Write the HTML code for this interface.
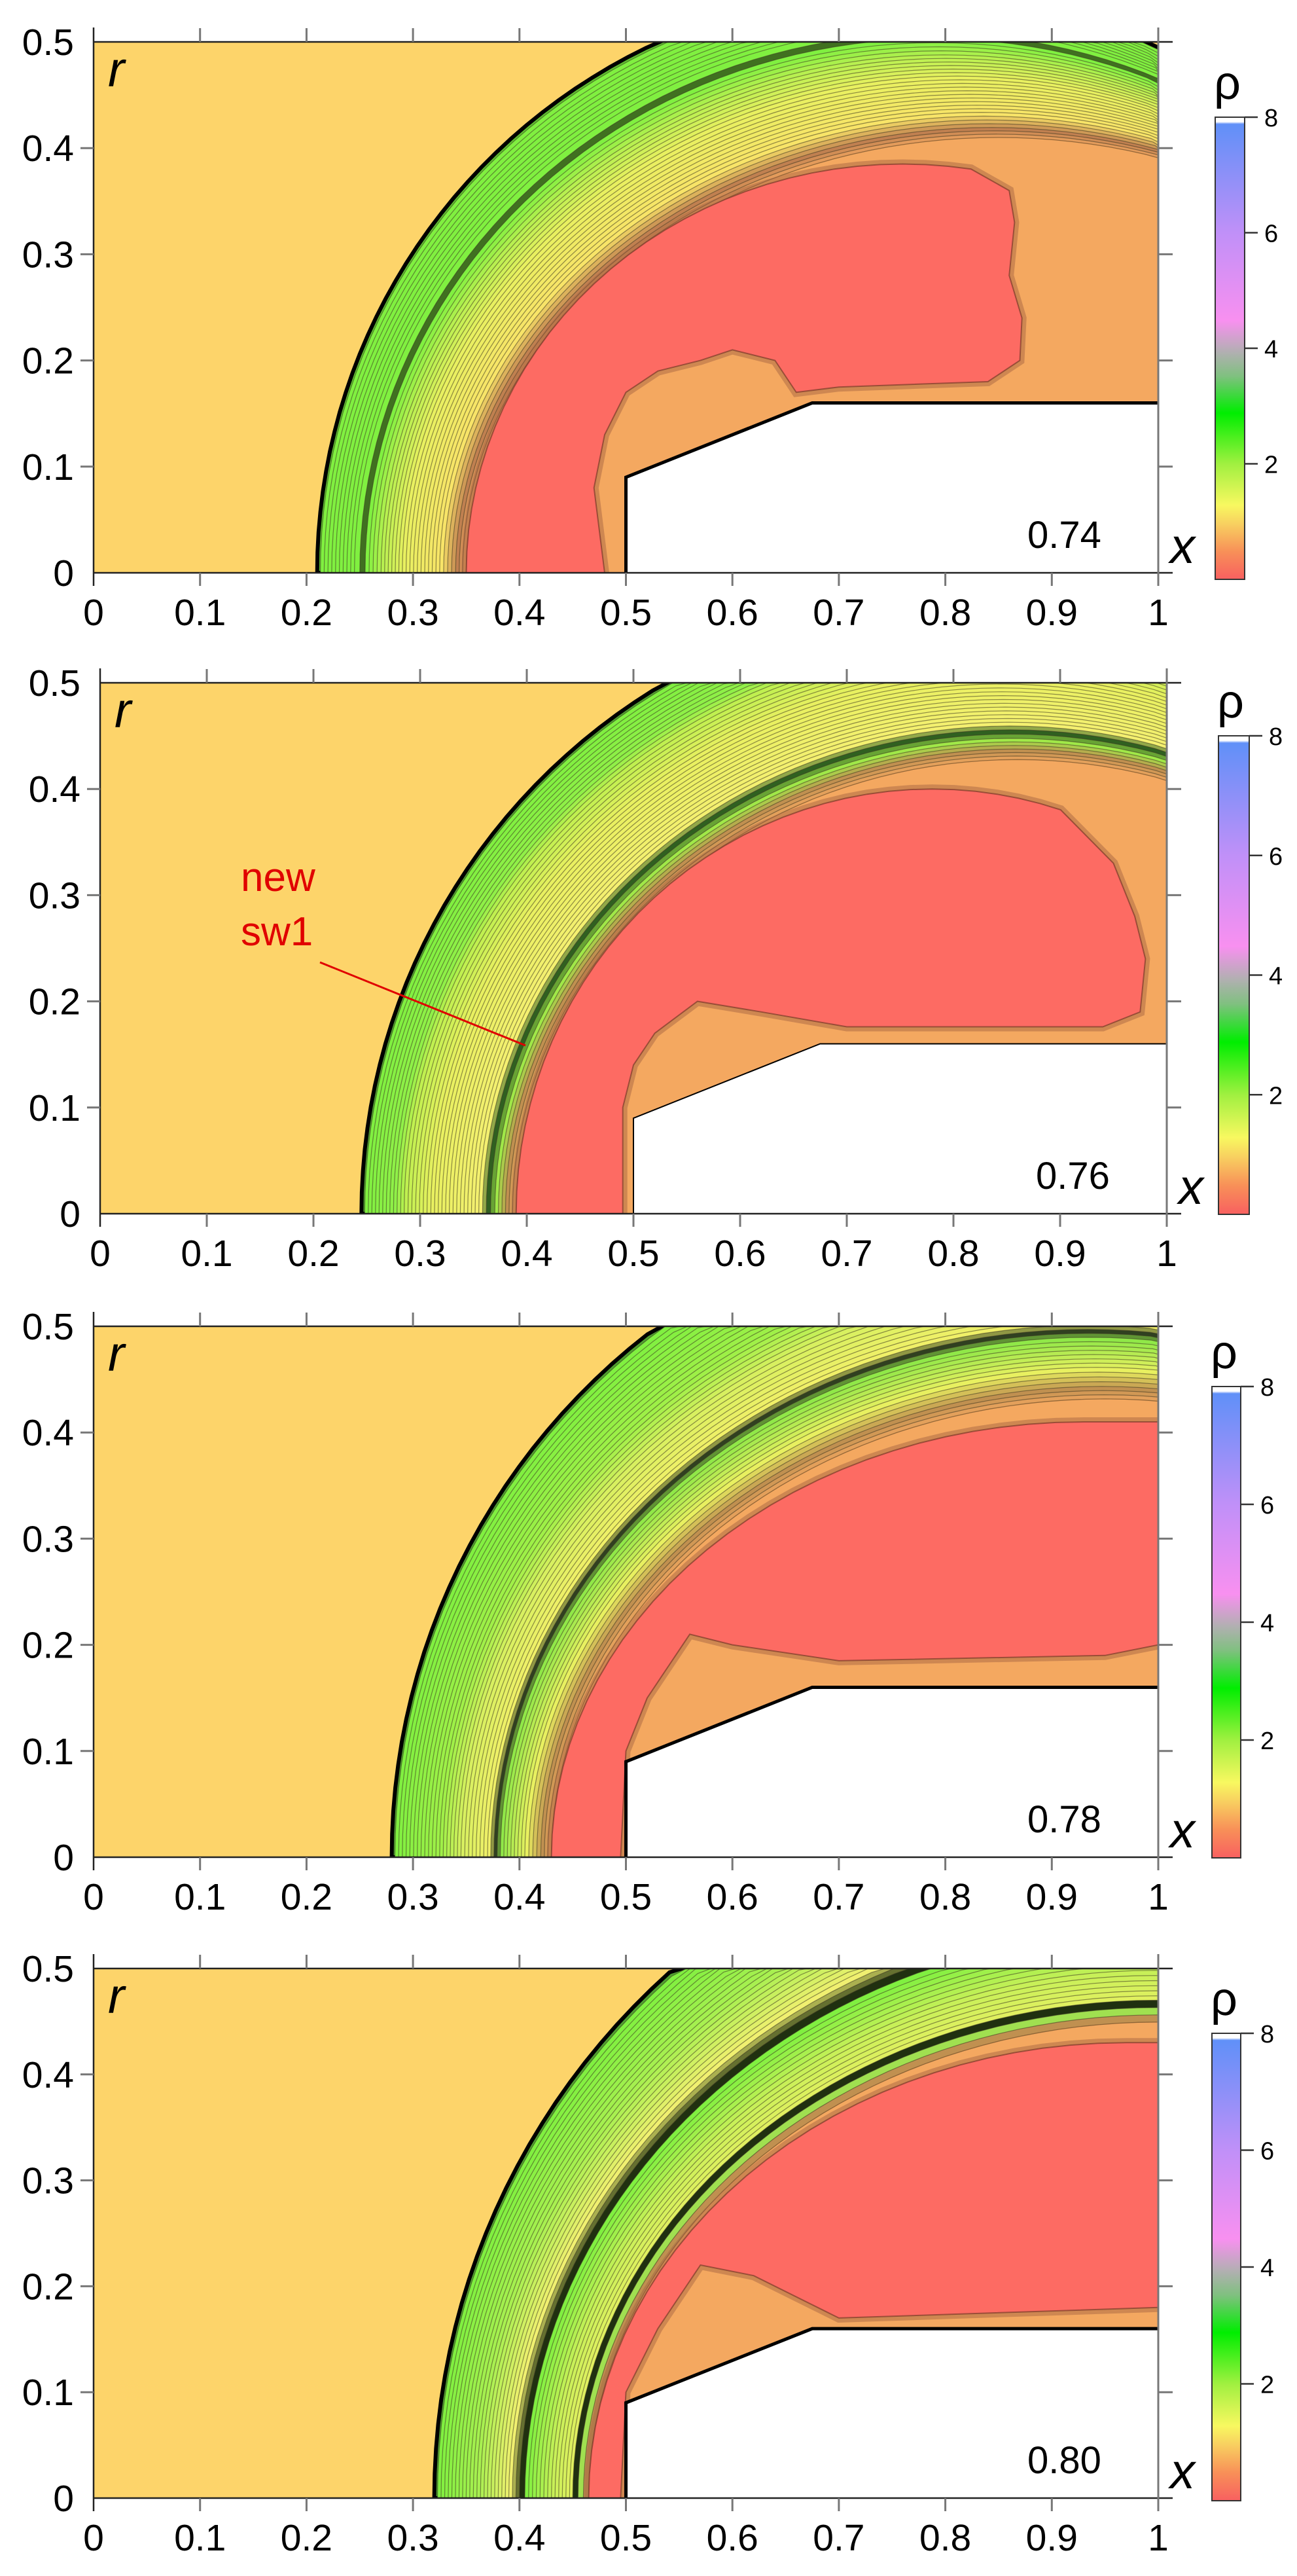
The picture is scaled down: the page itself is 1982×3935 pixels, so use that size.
<!DOCTYPE html>
<html><head><meta charset="utf-8">
<style>
html,body{margin:0;padding:0;background:#fff;overflow:hidden;width:1982px;height:3935px;}
svg{display:block;overflow:hidden;}
text{font-family:"Liberation Sans",Arial,sans-serif;}
</style></head>
<body>
<svg id="s" width="1982" height="3935" viewBox="0 0 1982 3935" xmlns="http://www.w3.org/2000/svg">
<defs>
<linearGradient id="cb" x1="0" y1="1" x2="0" y2="0">
<stop offset="0" stop-color="#f86060"/>
<stop offset="0.06" stop-color="#f89058"/>
<stop offset="0.12" stop-color="#f8d060"/>
<stop offset="0.16" stop-color="#f8f860"/>
<stop offset="0.25" stop-color="#a0f040"/>
<stop offset="0.36" stop-color="#00ee00"/>
<stop offset="0.44" stop-color="#80c080"/>
<stop offset="0.49" stop-color="#b0b0b0"/>
<stop offset="0.56" stop-color="#f890f0"/>
<stop offset="0.75" stop-color="#c090f8"/>
<stop offset="0.985" stop-color="#6090f8"/>
<stop offset="0.99" stop-color="#ffffff"/>
<stop offset="1" stop-color="#ffffff"/>
</linearGradient>
</defs>
</svg>
<script>
(function(){
var svg=document.getElementById('s');
var out='';
function hx(c){return [parseInt(c.substr(1,2),16),parseInt(c.substr(3,2),16),parseInt(c.substr(5,2),16)];}
function mix(a,b,t){var A=hx(a),B=hx(b);return 'rgb('+A.map(function(v,i){return Math.round(v+(B[i]-v)*t);}).join(',')+')';}
var panels=[
 {L:143,R:1770,T:64,B:875,cb:[1857,1902,179,885],t:'0.74',cx0:0.76,cx1:0.85,k0:1.0,k1:0.82,
  layers:[[0.21,'#60c030'],[0.213,'#80f040'],[0.245,'#80f040'],[0.25,'#407020'],[0.255,'#80f040'],[0.27,'#b8f050'],[0.29,'#e8f060'],[0.325,'#f8e468'],[0.34,'#c08050'],[0.35,'#f4a860']],
  red:{cx:0.76,rx:0.41,ry:0.385,a1:80,pts:[[0.86,0.36],[0.865,0.33],[0.86,0.28],[0.872,0.24],[0.87,0.2],[0.84,0.18],[0.7,0.175],[0.66,0.17],[0.64,0.2],[0.6,0.21],[0.57,0.2],[0.53,0.19],[0.5,0.17],[0.48,0.13],[0.47,0.08],[0.48,0]]}},
 {L:153,R:1783,T:1043,B:1854,cb:[1862,1909,1124,1855],t:'0.76',cx0:0.826,cx1:0.86,k0:1.0,k1:0.91,
  layers:[[0.245,'#50a030'],[0.248,'#80f040'],[0.275,'#90f048'],[0.285,'#c0f050'],[0.31,'#e8f060'],[0.355,'#f4f070'],[0.362,'#306020'],[0.37,'#a0e848'],[0.38,'#c09050'],[0.39,'#f4a860']],
  red:{cx:0.78,rx:0.39,ry:0.40,a1:70,pts:[[0.95,0.33],[0.97,0.28],[0.98,0.24],[0.975,0.19],[0.94,0.176],[0.7,0.176],[0.62,0.19],[0.56,0.2],[0.52,0.17],[0.5,0.14],[0.49,0.1],[0.49,0]]}},
 {L:143,R:1770,T:2026,B:2837,cb:[1852,1896,2118,2838],t:'0.78',cx0:0.905,cx1:0.95,k0:1.0,k1:0.83,
  layers:[[0.28,'#50a030'],[0.283,'#80f040'],[0.325,'#a0f048'],[0.345,'#d8f060'],[0.37,'#f0f068'],[0.376,'#304020'],[0.382,'#90e848'],[0.405,'#e8f060'],[0.42,'#c09050'],[0.43,'#f4a860']],
  red:{cx:0.93,rx:0.5,ry:0.41,a1:90,pts:[[1.0,0.41],[1.0,0.2],[0.95,0.19],[0.7,0.185],[0.6,0.2],[0.56,0.21],[0.52,0.15],[0.5,0.1],[0.495,0]]}},
 {L:143,R:1770,T:3007,B:3816,cb:[1852,1896,3106,3820],t:'0.80',cx0:0.988,cx1:1.0,k0:1.0,k1:0.84,
  layers:[[0.32,'#50a030'],[0.323,'#80f040'],[0.36,'#a8f050'],[0.39,'#f0f070'],[0.40,'#203010'],[0.405,'#80f040'],[0.43,'#c8f058'],[0.447,'#e0f060'],[0.45,'#203010'],[0.455,'#a0e050'],[0.46,'#c09050'],[0.465,'#f4a860']],
  red:{cx:0.97,rx:0.505,ry:0.43,a1:90,pts:[[1.0,0.43],[1.0,0.18],[0.7,0.17],[0.62,0.21],[0.57,0.22],[0.53,0.16],[0.5,0.1],[0.495,0]]}}
];
panels.forEach(function(p,i){
 var sx=p.R-p.L, sy=(p.B-p.T)/0.5;
 function X(x){return p.L+x*sx;} function Y(r){return p.B-r*sy;}
 function cl(v,a,b){return Math.max(a,Math.min(b,v));}
 var cid='c'+i;
 out+='<clipPath id="'+cid+'"><rect x="'+p.L+'" y="'+p.T+'" width="'+sx+'" height="'+(p.B-p.T)+'"/></clipPath>';
 out+='<g clip-path="url(#'+cid+')">';
 out+='<rect x="'+p.L+'" y="'+p.T+'" width="'+sx+'" height="'+(p.B-p.T)+'" fill="#fdd46a"/>';
 var x0s=p.layers[0][0], x0e=p.layers[p.layers.length-1][0];
 function ell(x0,fill,sc,sw,so){
  var t=(x0-x0s)/(x0e-x0s);
  var cx=p.cx0+(p.cx1-p.cx0)*t, k=p.k0+(p.k1-p.k0)*t, rx=cx-x0, ry=rx*k;
  var d='';
  for(var a=180;a>=0;a-=2){var th=a*Math.PI/180;var xx=cl(cx+rx*Math.cos(th),0,1.003), yy=cl(ry*Math.sin(th),0,0.502);
   d+=(d?'L':'M')+X(xx).toFixed(1)+','+Y(yy).toFixed(1);}
  d+='Z';
  return '<path d="'+d+'" fill="'+fill+'" stroke="'+sc+'" stroke-opacity="'+so+'" stroke-width="'+sw+'"/>';
 }
 for(var j=0;j<p.layers.length-1;j++){
  var a=p.layers[j],b=p.layers[j+1];
  var n=Math.max(1,Math.round((b[0]-a[0])/0.0035));
  for(var m=0;m<n;m++){
   var f=m/n, x0=a[0]+(b[0]-a[0])*f;
   var first=(j==0&&m==0);
   out+=ell(x0,mix(a[1],b[1],f),first?'#000':'#3a3520',first?6:1.2,first?1:0.55);
  }
 }
 var last=p.layers[p.layers.length-1];
 out+=ell(last[0],last[1],'#5a4020',1.3,0.6);
 var rd=p.red, d='';
 for(var ang=180;ang>=rd.a1;ang-=3){var tt=ang*Math.PI/180;var xx=rd.cx+rd.rx*Math.cos(tt), yy=rd.ry*Math.sin(tt);d+=(d?'L':'M')+X(xx).toFixed(1)+','+Y(yy).toFixed(1);}
 rd.pts.forEach(function(pt){d+='L'+X(pt[0]).toFixed(1)+','+Y(pt[1]).toFixed(1);});
 d+='Z';
 out+='<path d="'+d+'" fill="none" stroke="#a06040" stroke-opacity="0.45" stroke-width="14"/>';
 out+='<path d="'+d+'" fill="#fd6b63" stroke="#7a3a2a" stroke-opacity="0.7" stroke-width="2"/>';
 var bd='M'+X(0.5)+','+Y(0)+'L'+X(0.5)+','+Y(0.09)+'L'+X(0.675)+','+Y(0.16)+'L'+X(1.005)+','+Y(0.16)+'L'+X(1.005)+','+Y(0)+'Z';
 out+='<path d="'+bd+'" fill="#fff"/>';
 out+='<path d="M'+X(0.5)+','+Y(0)+'L'+X(0.5)+','+Y(0.09)+'L'+X(0.675)+','+Y(0.16)+'L'+X(1)+','+Y(0.16)+'" fill="none" stroke="#000" stroke-width="'+(i==1?2:5)+'"/>';
 out+='</g>';
 out+='<g stroke="#222" stroke-width="2.5">';
 out+='<line x1="'+p.L+'" y1="'+p.T+'" x2="'+(p.R+22)+'" y2="'+p.T+'"/>';
 out+='<line x1="'+p.L+'" y1="'+p.B+'" x2="'+(p.R+22)+'" y2="'+p.B+'"/>';
 out+='<line x1="'+p.L+'" y1="'+(p.T-22)+'" x2="'+p.L+'" y2="'+(p.B+20)+'"/>';
 out+='</g><g stroke="#777" stroke-width="3">';
 out+='<line x1="'+p.R+'" y1="'+(p.T-22)+'" x2="'+p.R+'" y2="'+(p.B+20)+'"/>';
 for(var tx=1;tx<10;tx++){var xx2=X(tx/10);out+='<line x1="'+xx2+'" y1="'+(p.T-21)+'" x2="'+xx2+'" y2="'+p.T+'"/><line x1="'+xx2+'" y1="'+p.B+'" x2="'+xx2+'" y2="'+(p.B+20)+'"/>';}
 for(var ty=1;ty<5;ty++){var yy2=Y(ty/10);out+='<line x1="'+(p.L-20)+'" y1="'+yy2+'" x2="'+p.L+'" y2="'+yy2+'"/><line x1="'+p.R+'" y1="'+yy2+'" x2="'+(p.R+22)+'" y2="'+yy2+'"/>';}
 out+='</g>';
 var lab=['0','0.1','0.2','0.3','0.4','0.5','0.6','0.7','0.8','0.9','1'];
 for(var tx=0;tx<=10;tx++){out+='<text x="'+X(tx/10)+'" y="'+(p.B+80)+'" font-size="57" text-anchor="middle">'+lab[tx]+'</text>';}
 for(var ty=0;ty<=5;ty++){out+='<text x="'+(p.L-30)+'" y="'+(Y(ty/10)+20)+'" font-size="57" text-anchor="end">'+lab[ty]+'</text>';}
 out+='<text x="'+(p.L+22)+'" y="'+(p.T+68)+'" font-size="76" font-style="italic">r</text>';
 out+='<text x="'+(p.R+18)+'" y="'+(p.B-15)+'" font-size="76" font-style="italic">x</text>';
 out+='<text x="'+(p.R-200)+'" y="'+(p.B-38)+'" font-size="58">'+p.t+'</text>';
 var c=p.cb, h=c[3]-c[2];
 out+='<rect x="'+c[0]+'" y="'+c[2]+'" width="'+(c[1]-c[0])+'" height="'+h+'" fill="url(#cb)" stroke="#333" stroke-width="2"/>';
 var clb=['8','6','4','2'];
 for(var v=0;v<4;v++){var yy3=c[2]+h*(v*2/8);out+='<line x1="'+c[1]+'" y1="'+yy3+'" x2="'+(c[1]+20)+'" y2="'+yy3+'" stroke="#333" stroke-width="2.5"/><text x="'+(c[1]+30)+'" y="'+(yy3+14)+'" font-size="38">'+clb[v]+'</text>';}
 out+='<text x="'+(c[0]-2)+'" y="'+(c[2]-28)+'" font-size="72">ρ</text>';
});
out+='<text x="368" y="1361" font-size="62" fill="#e00000">new</text>';
out+='<text x="368" y="1444" font-size="62" fill="#e00000">sw1</text>';
out+='<line x1="489" y1="1470" x2="803" y2="1597" stroke="#e00000" stroke-width="3"/>';
svg.insertAdjacentHTML('beforeend',out);
})();
</script>
</body></html>
